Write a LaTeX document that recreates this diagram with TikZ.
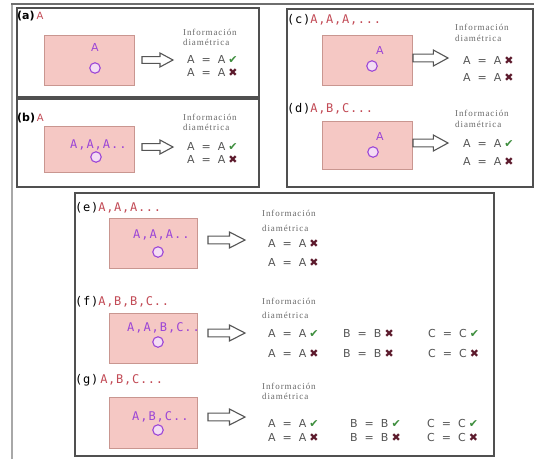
\documentclass[tikz,border=0pt]{standalone}
\usepackage{fontspec}
\setmainfont{Liberation Serif}
\newfontfamily\labfont[LetterSpace=6]{DejaVu Sans Mono}
\newfontfamily\absfont{DejaVu Sans}
\newfontfamily\infofont[LetterSpace=10]{Liberation Serif}
\newfontfamily\purpfont[LetterSpace=8]{DejaVu Sans Mono}
\definecolor{boxgray}{HTML}{505050}
\definecolor{framegray}{HTML}{A8A8A8}
\definecolor{topgray}{HTML}{6E6E6E}
\definecolor{pinkfill}{HTML}{F5C8C4}
\definecolor{pinkdraw}{HTML}{C99690}
\definecolor{labred}{HTML}{C24A55}
\definecolor{purp}{HTML}{9B45D6}
\definecolor{ringfill}{HTML}{F4DDF4}
\definecolor{eqgray}{HTML}{555555}
\definecolor{infogray}{HTML}{6A6A6A}
\definecolor{okgreen}{HTML}{3E8E3E}
\definecolor{nored}{HTML}{5C1A2C}
\definecolor{arrowgray}{HTML}{555555}
\newcommand\okm{{\color{okgreen}\absfont\fontsize{11}{11}\selectfont ✔}}
\newcommand\nom{{\color{nored}\absfont\fontsize{11}{11}\selectfont ✖}}
\newcommand\eqrow[2]{#1\hspace{7pt}=\hspace{7pt}#1\hspace{3pt}#2}
\newcommand\blockarrow[4]{%
  \draw[barrow] ({#1},{#2-#4*0.48}) -- ({#1+#3*0.58},{#2-#4*0.48}) -- ({#1+#3*0.58},{#2-#4}) -- ({#1+#3},{#2}) -- ({#1+#3*0.58},{#2+#4}) -- ({#1+#3*0.58},{#2+#4*0.48}) -- ({#1},{#2+#4*0.48}) -- cycle;}
\tikzset{
  panel/.style={draw=boxgray,line width=1.2pt},
  pinkbox/.style={draw=pinkdraw,fill=pinkfill,line width=0.8pt,anchor=north west,inner sep=0},
  ring/.style={circle,draw=purp,fill=ringfill,line width=1.1pt,minimum size=10.5pt,inner sep=0},
  lab/.style={anchor=west,inner sep=0,font=\labfont\fontsize{12}{12}\selectfont},
  abl/.style={anchor=west,inner sep=0,font=\absfont\fontsize{11}{11}\selectfont},
  ptxt/.style={inner sep=0,text=purp,font=\purpfont\fontsize{12}{12}\selectfont},
  pone/.style={inner sep=0,text=purp,font=\absfont\fontsize{11}{11}\selectfont},
  info/.style={anchor=west,inner sep=0,text=infogray,font=\infofont\fontsize{9}{9}\selectfont},
  eq/.style={anchor=west,inner sep=0,text=eqgray,font=\absfont\fontsize{11}{11}\selectfont},
  barrow/.style={draw=arrowgray,fill=white,line width=1.1pt,line join=miter}
}
\begin{document}
\begin{tikzpicture}[x=1pt,y=-1pt]
\useasboundingbox (0,0) rectangle (534,459);
\fill[white] (0,0) rectangle (534,459);
% outer frame
\draw[framegray,line width=2pt] (12,459) -- (12,4);
\draw[topgray,line width=1.5pt] (11,4) -- (534,4);
% panels
\draw[panel] (17,8) rectangle (259,97);
\draw[panel] (17,99) rectangle (259,187);
\draw[panel] (287,9) rectangle (533,187);
\draw[panel] (75,193) rectangle (494,456);

% ---------- (a)
\node[abl] (la) at (17,16) {\bfseries (a)\,{\color{labred}\mdseries\fontsize{10}{10}\selectfont A}};
\node[pinkbox,minimum width=90pt,minimum height=50pt] (ra) at (44,35) {};
\node[pone] (pa) at (95,47) {A};
\node[ring] (ca) at (95,68) {};
\blockarrow{142}{60}{31}{7}
\node[info] (ia1) at (183,32) {Información};
\node[info] (ia2) at (183,42) {diamétrica};
\node[eq] (ea1) at (187,59) {\eqrow{A}{\okm}};
\node[eq] (ea2) at (187,72) {\eqrow{A}{\nom}};

% ---------- (b)
\node[abl] (lb) at (17,118) {\bfseries (b)\,{\color{labred}\mdseries\fontsize{10}{10}\selectfont A}};
\node[pinkbox,minimum width=90pt,minimum height=46pt] (rb) at (44,126) {};
\node[ptxt,anchor=west] (pb) at (70,145) {A,A,A..};
\node[ring] (cb) at (96,157) {};
\blockarrow{142}{147}{31}{7}
\node[info] (ib1) at (183,117) {Información};
\node[info] (ib2) at (183,127) {diamétrica};
\node[eq] (eb1) at (187,146) {\eqrow{A}{\okm}};
\node[eq] (eb2) at (187,159) {\eqrow{A}{\nom}};

% ---------- (c)
\node[lab] (lc) at (287,20) {(c){\color{labred}A,A,A,...}};
\node[pinkbox,minimum width=90pt,minimum height=50pt] (rc) at (322,35) {};
\node[pone] (pc) at (380,50) {A};
\node[ring] (cc) at (372,66) {};
\blockarrow{413}{58}{35}{8}
\node[info] (ic1) at (455,27) {Información};
\node[info] (ic2) at (455,38) {diamétrica};
\node[eq] (ec1) at (463,60) {\eqrow{A}{\nom}};
\node[eq] (ec2) at (463,77) {\eqrow{A}{\nom}};

% ---------- (d)
\node[lab] (ld) at (287,109) {(d){\color{labred}A,B,C...}};
\node[pinkbox,minimum width=90pt,minimum height=48pt] (rd) at (322,121) {};
\node[pone] (pd) at (380,136) {A};
\node[ring] (cd) at (373,152) {};
\blockarrow{413}{143}{35}{8}
\node[info] (id1) at (455,113) {Información};
\node[info] (id2) at (455,124) {diamétrica};
\node[eq] (ed1) at (463,143) {\eqrow{A}{\okm}};
\node[eq] (ed2) at (463,161) {\eqrow{A}{\nom}};

% ---------- (e)
\node[lab] (le) at (75,208) {(e){\color{labred}A,A,A...}};
\node[pinkbox,minimum width=88pt,minimum height=50pt] (re) at (109,218) {};
\node[ptxt,anchor=west] (pe) at (133,235) {A,A,A..};
\node[ring] (ce) at (158,252) {};
\blockarrow{208}{240}{37}{8}
\node[info] (ie1) at (262,213) {Información};
\node[info] (ie2) at (262,228) {diamétrica};
\node[eq] (ee1) at (268,243) {\eqrow{A}{\nom}};
\node[eq] (ee2) at (268,262) {\eqrow{A}{\nom}};

% ---------- (f)
\node[lab] (lf) at (75,302) {(f){\color{labred}A,B,B,C..}};
\node[pinkbox,minimum width=88pt,minimum height=50pt] (rf) at (109,313) {};
\node[ptxt,anchor=west] (pf) at (127,328) {A,A,B,C..};
\node[ring] (cf) at (158,342) {};
\blockarrow{208}{333}{37}{8}
\node[info] (if1) at (262,301) {Información};
\node[info] (if2) at (262,315) {diamétrica};
\node[eq] (ef1) at (268,333) {\eqrow{A}{\okm}};
\node[eq] (ef2) at (343,333) {\eqrow{B}{\nom}};
\node[eq] (ef3) at (428,333) {\eqrow{C}{\okm}};
\node[eq] (ef4) at (268,353) {\eqrow{A}{\nom}};
\node[eq] (ef5) at (343,353) {\eqrow{B}{\nom}};
\node[eq] (ef6) at (428,353) {\eqrow{C}{\nom}};

% ---------- (g)
\node[lab] (lg) at (75,380) {(g)\hspace{2pt}{\color{labred}A,B,C...}};
\node[pinkbox,minimum width=88pt,minimum height=51pt] (rg) at (109,397) {};
\node[ptxt,anchor=west] (pg) at (132,417) {A,B,C..};
\node[ring] (cg) at (158,430) {};
\blockarrow{208}{417}{37}{8}
\node[info] (ig1) at (262,386) {Información};
\node[info] (ig2) at (262,396) {diamétrica};
\node[eq] (eg1) at (268,423) {\eqrow{A}{\okm}};
\node[eq] (eg2) at (350,423) {\eqrow{B}{\okm}};
\node[eq] (eg3) at (427,423) {\eqrow{C}{\okm}};
\node[eq] (eg4) at (268,437) {\eqrow{A}{\nom}};
\node[eq] (eg5) at (350,437) {\eqrow{B}{\nom}};
\node[eq] (eg6) at (427,437) {\eqrow{C}{\nom}};
\end{tikzpicture}
\end{document}
